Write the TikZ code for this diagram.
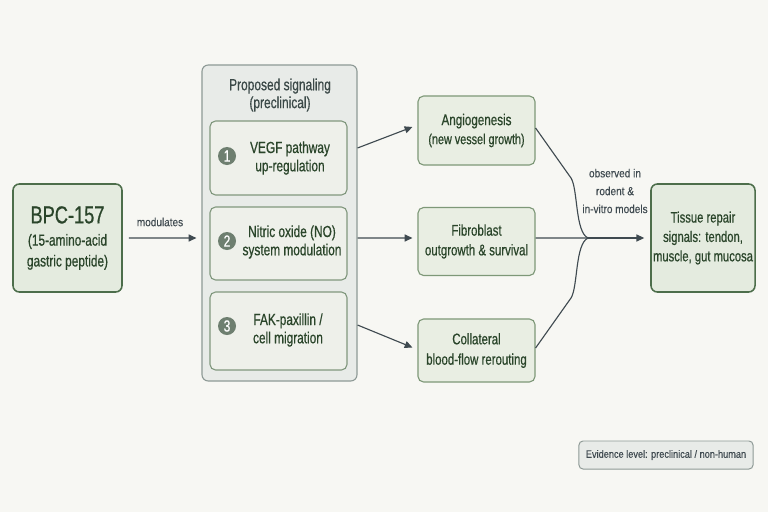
\documentclass[tikz,border=0pt]{standalone}
\usepackage{fontspec}
\setmainfont[FakeStretch=0.74,FakeBold=0.6]{Liberation Sans}
\newfontfamily\notefont[FakeStretch=0.86,FakeBold=0.3]{Liberation Sans}
\usetikzlibrary{arrows.meta}

\definecolor{paper}{HTML}{F7F7F3}
\definecolor{leaf}{HTML}{2A452A}
\definecolor{leafline}{HTML}{4D6E4B}
\definecolor{leaffill}{HTML}{E4EBDF}
\definecolor{sage}{HTML}{7E9878}
\definecolor{sagefill}{HTML}{E9EEE3}
\definecolor{stone}{HTML}{8E9A96}
\definecolor{stonefill}{HTML}{E8EBE8}
\definecolor{stepfill}{HTML}{EEF0EA}
\definecolor{dot}{HTML}{6E7F70}
\definecolor{ink}{HTML}{3F4A50}

\newcommand{\pxl}{0.25mm}

\begin{document}
\begin{tikzpicture}[x=0.025cm,y=-0.025cm,
    mainbox/.style={draw=leafline,fill=leaffill,line width=1.1pt,rounded corners=1.6mm,
      align=center,text=leaf,inner sep=1pt},
    groupbox/.style={draw=stone,fill=stonefill,line width=0.8pt,rounded corners=1.6mm},
    stepbox/.style={draw=sage!80!stone,fill=stepfill,line width=0.8pt,rounded corners=1.4mm,
      minimum width=137*\pxl},
    effectbox/.style={draw=sage,fill=sagefill,line width=0.8pt,rounded corners=1.4mm,
      align=center,text=leaf,minimum width=117*\pxl,inner sep=1pt},
    stepnum/.style={circle,fill=dot,text=white,inner sep=0pt,minimum size=18*\pxl,
      font=\fontsize{11.5}{11.5}\selectfont},
    steptext/.style={align=center,text=leaf,font=\fontsize{11.4}{13}\selectfont},
    note/.style={align=center,text=ink,font=\notefont\fontsize{8.3}{12.7}\selectfont},
    arr/.style={draw=ink,line width=0.8pt,-{Triangle[length=5.5pt,width=5pt]}},
    merge/.style={draw=ink,line width=0.8pt}]

    \fill[paper] (0,0) rectangle (768,512);
    \useasboundingbox (0,0) rectangle (768,512);

    % source
    \node[mainbox,minimum width=109*\pxl,minimum height=108*\pxl,
      font=\fontsize{11.4}{14.8}\selectfont] (bpc) at (67.5,238)
      {\fontsize{17.5}{19}\selectfont BPC-157\\[1pt]
       \fontsize{11.4}{14.8}\selectfont (15-amino-acid\\gastric peptide)};

    % signaling group
    \node[groupbox,minimum width=155*\pxl,minimum height=316*\pxl] (grp) at (279.5,223) {};
    \node[align=center,text=ink!80!leaf,font=\fontsize{11.5}{12.7}\selectfont] (grptitle) at (280,95)
      {Proposed signaling\\(preclinical)};

    \node[stepbox,minimum height=74*\pxl] (s1) at (278.5,158) {};
    \node[stepbox,minimum height=73*\pxl] (s2) at (278.5,243.5) {};
    \node[stepbox,minimum height=78*\pxl] (s3) at (278.5,331) {};

    \node[stepnum] (n1) at (227,156) {1};
    \node[stepnum] (n2) at (227,241) {2};
    \node[stepnum] (n3) at (227,326) {3};

    \node[steptext] (t1) at (290,158) {VEGF pathway\\up-regulation};
    \node[steptext] (t2) at (292,242) {Nitric oxide (NO)\\system modulation};
    \node[steptext] (t3) at (288,330) {FAK-paxillin /\\cell migration};

    % effects
    \node[effectbox,minimum height=69*\pxl,font=\fontsize{11.2}{13.5}\selectfont] (angio) at (476.5,130.5)
      {Angiogenesis\\\fontsize{10.4}{13.5}\selectfont (new vessel growth)};
    \node[effectbox,minimum height=68*\pxl,font=\fontsize{11}{14}\selectfont] (fibro) at (476.5,241.5)
      {Fibroblast\\outgrowth \& survival};
    \node[effectbox,minimum height=63*\pxl,font=\fontsize{11}{14.5}\selectfont] (coll) at (476.5,350.5)
      {Collateral\\blood-flow rerouting};

    % outcome
    \node[mainbox,minimum width=104*\pxl,minimum height=108*\pxl,font=\fontsize{10.8}{13.8}\selectfont]
      (tissue) at (703,238) {Tissue repair\\signals: tendon,\\muscle, gut mucosa};

    \node[draw=stone,fill=stonefill,line width=0.7pt,rounded corners=1mm,text=ink,
      minimum width=174*\pxl,minimum height=28*\pxl,font=\notefont\fontsize{7.6}{9}\selectfont] (evid) at (666,455)
      {Evidence level: preclinical / non-human};

    % connectors
    \draw[arr] ([xshift=6*\pxl]bpc.east) -- ([xshift=-5*\pxl,yshift=-15*\pxl]grp.west);
    \node[note,font=\notefont\fontsize{8.3}{10}\selectfont] (modlabel) at (160,222) {modulates};

    \draw[arr] ([yshift=75*\pxl]grp.east) -- ([xshift=-5*\pxl,yshift=3.5*\pxl]angio.west);
    \draw[arr] ([yshift=-15*\pxl]grp.east) -- ([xshift=-5*\pxl,yshift=3.5*\pxl]fibro.west);
    \draw[arr] ([yshift=-102*\pxl]grp.east) -- ([xshift=-5*\pxl,yshift=3*\pxl]coll.west);

    \coordinate (join) at (588,238);
    \draw[merge] ([yshift=2.5*\pxl]angio.east) -- (571,178) .. controls (578,189) and (575,232) .. (join);
    \draw[merge] ([yshift=3.5*\pxl]fibro.east) -- (join);
    \draw[merge] ([yshift=2.5*\pxl]coll.east) -- (571,298) .. controls (578,287) and (575,244) .. (join);
    \draw[arr] (join) -- ([xshift=-6*\pxl]tissue.west);
    \node[note] (obslabel) at (615,191) {observed in\\rodent \&\\in-vitro models};
\end{tikzpicture}
\end{document}
